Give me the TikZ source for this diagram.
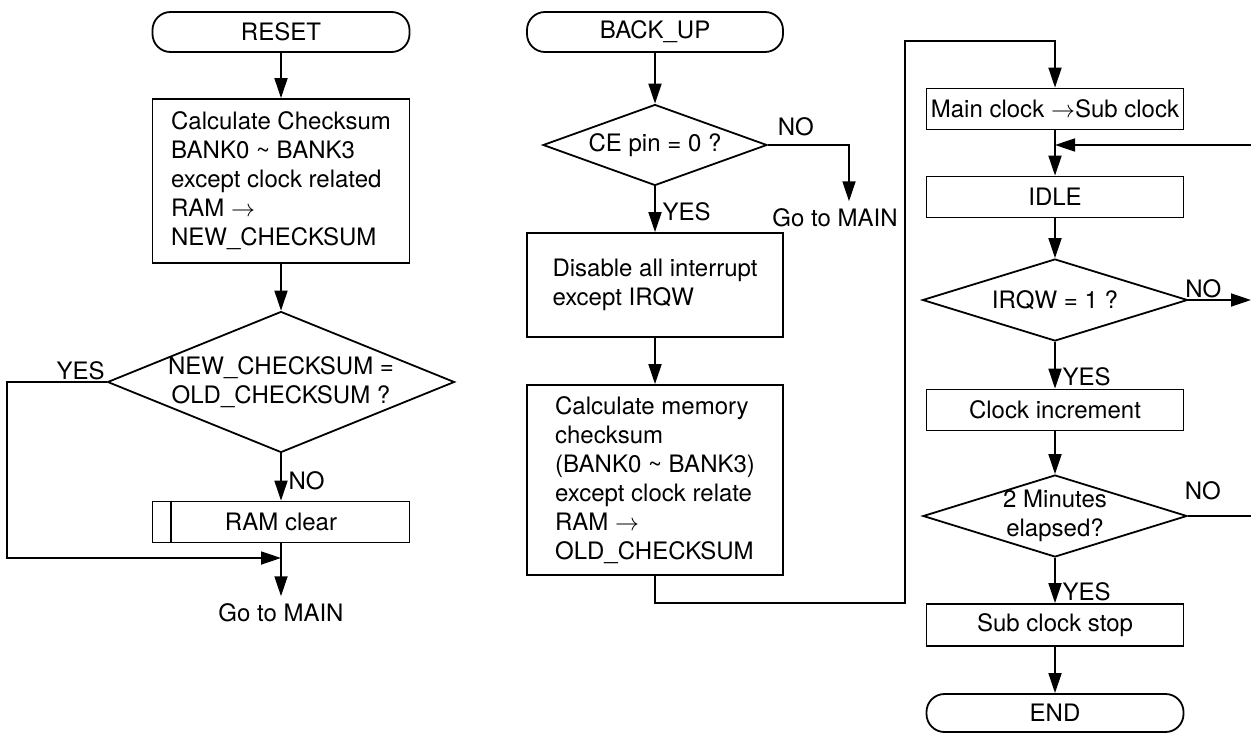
\documentclass[tikz,border=0pt]{standalone}
\usepackage{fontspec}
\setmainfont{TeX Gyre Heros}
\usetikzlibrary{positioning,shapes.geometric,arrows.meta}

\tikzset{
  every node/.style={font=\fontsize{12}{14.5}\selectfont},
  terminal/.style={draw,rectangle,rounded corners=9pt,minimum width=128.5pt,minimum height=20pt,inner sep=0pt},
  process/.style={draw,rectangle,minimum width=128.5pt,minimum height=20.5pt,align=left,inner sep=2pt},
  decision/.style={draw,diamond,aspect=2.6,align=center,inner sep=-3pt},
  lbl/.style={inner sep=0.5pt},
}

\begin{document}
\begin{tikzpicture}[line width=0.9pt,>={Triangle[length=10pt,width=6.5pt]},node distance=50pt,on grid,auto]
   \useasboundingbox (0,0) rectangle (625.5pt,-366.5pt);
   % RESET
   \node[terminal] (reset) at (140.5pt,-16pt) {RESET};
   \node[process,minimum height=82pt] (newsum) [below=74.5pt of reset] {Calculate Checksum\\BANK0 \textasciitilde{} BANK3\\except clock related\\RAM $\rightarrow$\\NEW\_CHECKSUM};
   \node[decision,minimum width=173.5pt,minimum height=70.5pt] (cmp) [below=100.5pt of newsum] {NEW\_CHECKSUM =\\OLD\_CHECKSUM ?};
   \node[process] (ramclr) [below=70pt of cmp] {RAM clear};
   \node (mainA) [below=45.5pt of ramclr] {Go to MAIN};
   \coordinate[below=18pt of ramclr] (joinA);
   \draw ([xshift=9.5pt]ramclr.north west) -- ([xshift=9.5pt]ramclr.south west);
   \path[->]
    (reset) edge (newsum)
    (newsum) edge (cmp)
    (cmp) edge node[pos=.57] {NO} (ramclr)
    (ramclr) edge (mainA);
   \draw[->] (cmp.west) node[lbl,anchor=south east] {YES} -- ++(-50pt,0) |- (joinA);
   % BACK_UP
   \node[terminal,minimum width=128pt] (backup) [right=187pt of reset] {BACK\_UP};
   \node[decision,minimum width=112pt,minimum height=40.5pt] (ce) [below=56.5pt of backup] {CE pin = 0 ?};
   \node (mainB) [below right=36.5pt and 90pt of ce] {Go to MAIN};
   \node[process,minimum width=128pt,minimum height=52pt] (disirq) [below=70pt of ce] {Disable all interrupt\\except IRQW};
   \node[process,minimum width=128pt,minimum height=95pt] (oldsum) [below=97.5pt of disirq] {Calculate memory\\checksum\\(BANK0 \textasciitilde{} BANK3)\\except clock relate\\RAM $\rightarrow$\\OLD\_CHECKSUM};
   \coordinate[below right=61.5pt and 125pt of oldsum] (loopB);
   \coordinate[above=281pt of loopB] (loopT);
   \path[->]
    (backup) edge (ce)
    (ce) edge node[pos=.55] {YES} (disirq)
    (disirq) edge (oldsum);
   \draw[->] (ce.east) node[lbl,anchor=south west,xshift=4pt,yshift=3.5pt] {NO} -| ([xshift=7pt]mainB.north);
   % clock loop
   \node[process,inner xsep=1pt] (mainsub) [below right=38.5pt and 200pt of backup] {Main clock $\rightarrow$Sub clock};
   \node[process] (idle) [below=44pt of mainsub] {IDLE};
   \node[decision,minimum width=132.5pt,minimum height=41pt] (irqw) [below=51.5pt of idle] {IRQW = 1 ?};
   \node[process] (clkinc) [below=55pt of irqw] {Clock increment};
   \node[decision,minimum width=132pt,minimum height=41pt] (twomin) [below=53pt of clkinc] {2 Minutes\\elapsed?};
   \node[process,minimum height=21pt] (substop) [below=54.5pt of twomin] {Sub clock stop};
   \node[terminal,minimum height=19pt] (endn) [below=44pt of substop] {END};
   \coordinate[below=18pt of mainsub] (fbJ);
   \coordinate[right=98pt of fbJ] (fbR);
   \coordinate[right=98pt of irqw] (irqR);
   \coordinate[right=98pt of twomin] (minR);
   \draw[->] (oldsum.south) |- (loopB) -- (loopT) -| (mainsub.north);
   \path[->]
    (mainsub) edge (idle)
    (idle) edge (irqw)
    (irqw) edge node[pos=.75] {YES} (clkinc)
    (clkinc) edge (twomin)
    (twomin) edge node[pos=.74] {YES} (substop)
    (substop) edge (endn);
   \draw[->] (fbR) -- (fbJ);
   \draw[->] (irqw.east) node[lbl,anchor=south west,xshift=-2.5pt] {NO} -- (irqR);
   \draw (twomin.east) node[lbl,anchor=south west,xshift=-2.5pt,yshift=7pt] {NO} -- (minR);
\end{tikzpicture}
\end{document}
